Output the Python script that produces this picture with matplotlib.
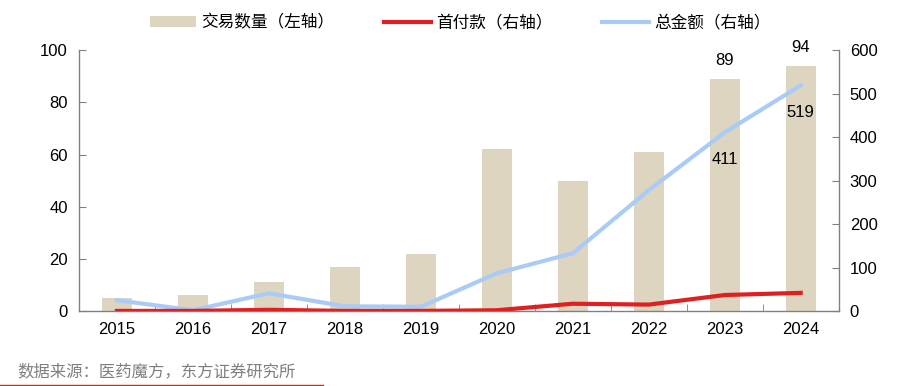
import matplotlib
matplotlib.use("Agg")
import matplotlib.pyplot as plt
from matplotlib.patches import Patch
from matplotlib.lines import Line2D
import numpy as np

plt.rcParams['font.family'] = ['Liberation Sans', 'Noto Sans CJK SC', 'DejaVu Sans']

years = ["2015", "2016", "2017", "2018", "2019", "2020", "2021", "2022", "2023", "2024"]
deal_count = [5, 6, 11, 17, 22, 62, 50, 61, 89, 94]
upfront = [0.5, 0.5, 3, 0.5, 0.5, 2, 17, 15, 37, 42]
total_value = [25, 2, 41, 11, 10, 87, 133, 278, 411, 519]

bar_color = "#DDD5BF"
red = "#E02020"
blue = "#A9CBF7"
axis_gray = "#808080"

fig = plt.figure(figsize=(8.97, 3.86), dpi=100)
ax = fig.add_axes([0.088, 0.194, 0.847, 0.676])
ax2 = ax.twinx()

x = np.arange(len(years))
ax.bar(x, deal_count, width=0.4, color=bar_color, zorder=1)
ax2.plot(x, total_value, color=blue, lw=3, zorder=3)
ax2.plot(x, upfront, color=red, lw=3, zorder=4)

ax.set_xlim(-0.5, len(years) - 0.5)
ax.set_ylim(0, 100)
ax2.set_ylim(0, 600)
ax.set_yticks(range(0, 101, 20))
ax2.set_yticks(range(0, 601, 100))
ax.set_xticks(x)
ax.set_xticklabels(years)
ax.set_xticks(np.arange(-0.5, len(years), 1), minor=True)

for a in (ax, ax2):
    for s in a.spines.values():
        s.set_visible(False)
ax.spines['left'].set_visible(True)
ax.spines['bottom'].set_visible(True)
ax2.spines['right'].set_visible(True)
for s in (ax.spines['left'], ax.spines['bottom'], ax2.spines['right']):
    s.set_color(axis_gray)
    s.set_linewidth(1)

ax.tick_params(axis='x', which='major', length=0, labelsize=12, pad=8)
ax.tick_params(axis='x', which='minor', length=5, direction='in', color=axis_gray)
ax.tick_params(axis='y', length=5, direction='in', color=axis_gray, labelsize=12, pad=8)
ax2.tick_params(axis='y', length=5, direction='in', color=axis_gray, labelsize=12, pad=8)

for i in (8, 9):
    ax.text(i, deal_count[i] + 7, str(deal_count[i]), ha='center', va='center', fontsize=12)
    ax2.text(i, total_value[i] - 62, str(total_value[i]), ha='center', va='center',
             fontsize=12, zorder=5)

handles = [
    Patch(facecolor=bar_color, edgecolor='none'),
    Line2D([0], [0], color=red, lw=3),
    Line2D([0], [0], color=blue, lw=3),
]
labels = ["交易数量（左轴）", "首付款（右轴）", "总金额（右轴）"]
fig.legend(handles, labels, loc='center', bbox_to_anchor=(0.513, 0.94), ncol=3,
           frameon=False, handlelength=2.8, handleheight=0.6,
           columnspacing=3.0, handletextpad=0.3,
           prop={'family': ['Noto Sans CJK SC'], 'size': 12})

fig.text(0.019, 0.036, "数据来源：医药魔方，东方证券研究所", fontsize=11.8, color="#7F7F7F",
         family=['Noto Sans CJK SC'], va='center')
fig.add_artist(Line2D([0.0, 0.36], [0.003, 0.003], color=red, lw=1, transform=fig.transFigure))

fig.savefig("out.png", dpi=100)
